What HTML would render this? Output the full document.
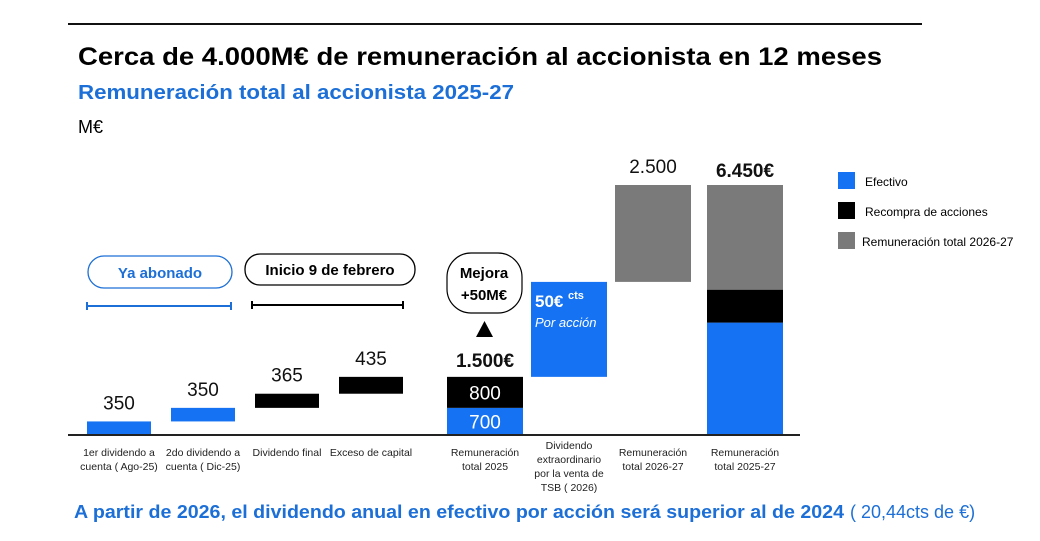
<!DOCTYPE html>
<html><head><meta charset="utf-8">
<style>
html,body{margin:0;padding:0;background:#fff;}
svg{display:block;font-family:"Liberation Sans",sans-serif;}
</style></head>
<body>
<svg id="chart" width="1040" height="541" viewBox="0 0 1040 541" xmlns="http://www.w3.org/2000/svg">
<line x1="68" y1="24" x2="922" y2="24" stroke="#111" stroke-width="2"/>
<text x="78" y="65" font-size="25" font-weight="bold" fill="#000" textLength="804" lengthAdjust="spacingAndGlyphs">Cerca de 4.000M€ de remuneración al accionista en 12 meses</text>
<text x="78" y="99" font-size="20" font-weight="bold" fill="#1c6fd6" textLength="436" lengthAdjust="spacingAndGlyphs">Remuneración total al accionista 2025-27</text>
<text x="78" y="133" font-size="18" fill="#000">M€</text>

<rect x="88" y="256" width="144" height="32" rx="16" fill="#fff" stroke="#1c6fd6" stroke-width="1.3"/>
<text x="160" y="278" font-size="15" font-weight="bold" fill="#1c6fd6" text-anchor="middle">Ya abonado</text>
<rect x="245" y="254" width="170" height="31" rx="15" fill="#fff" stroke="#000" stroke-width="1.3"/>
<text x="330" y="275" font-size="15" font-weight="bold" fill="#000" text-anchor="middle">Inicio 9 de febrero</text>
<g stroke="#1c6fd6" stroke-width="2"><line x1="87" y1="306" x2="231" y2="306"/><line x1="87" y1="302" x2="87" y2="310"/><line x1="231" y1="302" x2="231" y2="310"/></g>
<g stroke="#000" stroke-width="2"><line x1="252" y1="305" x2="403" y2="305"/><line x1="252" y1="301" x2="252" y2="309"/><line x1="403" y1="301" x2="403" y2="309"/></g>

<rect x="447" y="253" width="75" height="60" rx="24" fill="#fff" stroke="#000" stroke-width="1.2"/>
<text x="484" y="278" font-size="15" font-weight="bold" text-anchor="middle">Mejora</text>
<text x="484" y="300" font-size="15" font-weight="bold" text-anchor="middle">+50M€</text>
<polygon points="476,337 493,337 484.5,321" fill="#000"/>

<g id="bars"></g>
<line x1="68" y1="435" x2="800" y2="435" stroke="#222" stroke-width="2"/>

<g>
<rect x="838" y="172" width="17" height="17" fill="#1573f3"/>
<text x="865" y="186" font-size="12">Efectivo</text>
<rect x="838" y="202" width="17" height="17" fill="#000"/>
<text x="865" y="216" font-size="12">Recompra de acciones</text>
<rect x="838" y="232" width="17" height="17" fill="#7a7a7a"/>
<text x="862" y="246" font-size="12">Remuneración total 2026-27</text>
</g>

<text x="74" y="518" font-size="18" font-weight="bold" fill="#1c6fd6" textLength="770" lengthAdjust="spacingAndGlyphs">A partir de 2026, el dividendo anual en efectivo por acción será superior al de 2024</text>
<text x="850" y="518" font-size="18" fill="#1c6fd6">( 20,44cts de €)</text>

<script>
const categories = [
 ["1er dividendo a","cuenta ( Ago-25)"],
 ["2do dividendo a","cuenta ( Dic-25)"],
 ["Dividendo final"],
 ["Exceso de capital"],
 ["Remuneración","total 2025"],
 ["Dividendo","extraordinario","por la venta de","TSB ( 2026)"],
 ["Remuneración","total 2026-27"],
 ["Remuneración","total 2025-27"]
];
const cashValues    = [350, 350, 0, 0, 700, 2450, 0, 2900];
const buybackValues = [0, 0, 365, 435, 800, 0, 0, 850];
const totalValues   = [0, 0, 0, 0, 0, 0, 2500, 2700];
const baseValues    = [0, 350, 700, 1065, 0, 1500, 3950, 0];
const valueLabels   = ["350","350","365","435","1.500€","","2.500","6.450€"];
const boldLabel     = [false,false,false,false,true,false,false,true];

const baseline = 435, maxV = 6450, plotH = 250;
function y(v){ return baseline - v / maxV * plotH; }
function xCenter(i){ return 119 + i*84 + (i >= 4 ? 30 : 0) + (i === 7 ? 8 : 0); }
function bw(i){ return i < 4 ? 64 : 76; }

const g = document.getElementById('bars');
const NS = "http://www.w3.org/2000/svg";
function rect(x, v0, v1, fill, name){
  const r = document.createElementNS(NS, 'rect');
  r.setAttribute('x', x); r.setAttribute('y', y(v1));
  r.setAttribute('width', 0); r.setAttribute('height', Math.max(0, y(v0) - y(v1)));
  r.setAttribute('fill', fill);
  
  
  g.appendChild(r); return r;
}
function txt(x, yy, s, size, opts){
  const t = document.createElementNS(NS, 'text');
  t.setAttribute('x', x); t.setAttribute('y', yy);
  t.setAttribute('font-size', size); t.setAttribute('text-anchor', 'middle');
  if (opts && opts.bold) t.setAttribute('font-weight', 'bold');
  t.setAttribute('fill', (opts && opts.fill) || '#111');
  t.textContent = s;
  
  
  g.appendChild(t); return t;
}
categories.forEach((c, i) => {
  const cx = xCenter(i), w = bw(i), x0 = cx - w/2;
  let v = baseValues[i];
  const segs = [[cashValues[i], '#1573f3', 'bar-cash-' + i], [buybackValues[i], '#000', 'bar-buyback-' + i], [totalValues[i], '#7a7a7a', 'bar-total-2026-27-' + i]];
  segs.forEach(s => {
    if (s[0] > 0) { const r = rect(x0, v, v + s[0], s[1], s[2]); r.setAttribute('width', w); v += s[0]; }
  });
  if (valueLabels[i]) {
    const lab = txt(cx, y(v) - (boldLabel[i] ? (i === 4 ? 10 : 8) : 12), valueLabels[i], 19, {bold: boldLabel[i], name: 'value-label-' + i});
  }
  if (i === 4) {
    txt(cx, y(cashValues[i]/2) + 7, String(cashValues[i]), 19, {fill: '#fff', name: 'cash-value-2025'});
    txt(cx, y(cashValues[i] + buybackValues[i]/2) + 7, String(buybackValues[i]), 19, {fill: '#fff', name: 'buyback-value-2025'});
  }
  if (i === 5) {
    const t = txt(x0 + 4, y(v) + 25, '50€', 17, {bold: true, fill: '#fff', name: 'per-share-value'});
    t.setAttribute('text-anchor', 'start');
    const s = txt(x0 + 37, y(v) + 17, 'cts', 11, {bold: true, fill: '#fff', name: 'per-share-unit'});
    s.setAttribute('text-anchor', 'start');
    const p = txt(x0 + 4, y(v) + 45, 'Por acción', 13, {fill: '#fff', name: 'per-share-caption'});
    p.setAttribute('text-anchor', 'start'); p.setAttribute('font-style', 'italic');
  }
  const startY = c.length > 2 ? 449 : 456;
  c.forEach((line, k) => {
    txt(cx, startY + k * 14, line, 10.5, {fill: '#222', name: 'category-label-' + i});
  });
});
</script>
</svg>
</body></html>
